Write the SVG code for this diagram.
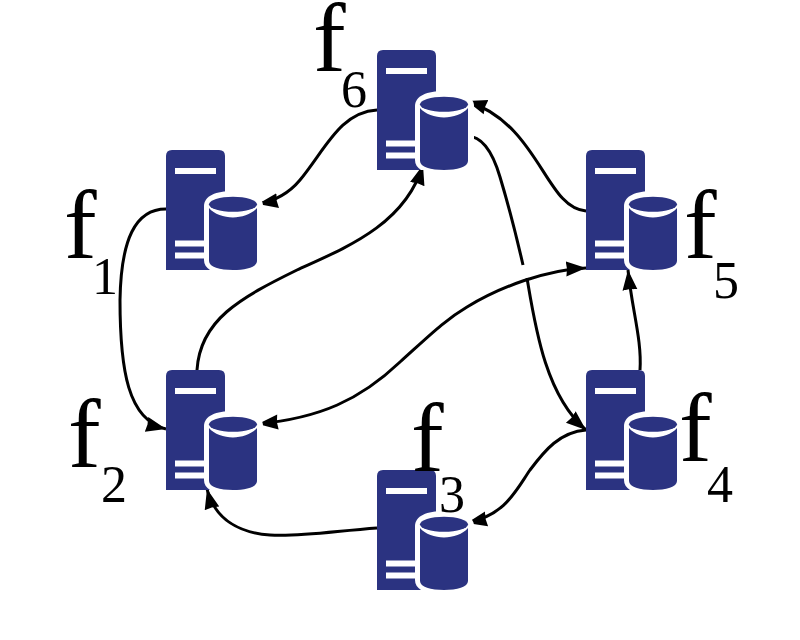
<svg xmlns="http://www.w3.org/2000/svg" width="800" height="640" viewBox="0 0 800 640">
<style>
.c{fill:none;stroke:#000;stroke-width:3}
.a{marker-end:url(#h)}
.b{marker-start:url(#s)}
.f{font-family:"Liberation Serif",serif;font-size:98px;fill:#000}
.n{font-size:52px;text-anchor:middle}
.t{fill:#2b3381}
.w{fill:#fff}
</style>
<defs>
<marker id="h" markerUnits="userSpaceOnUse" markerWidth="24" markerHeight="18" refX="20" refY="8" orient="auto"><path d="M0 0.500L20 8L0 15.500L1 8Z"/></marker>
<marker id="s" markerUnits="userSpaceOnUse" markerWidth="24" markerHeight="18" refX="0" refY="8" orient="auto"><path d="M20 0.500L0 8L20 15.500L19 8Z"/></marker>
<g id="srv">
<path class="t" d="M0 120V6Q0 0 6 0H53Q59 0 59 6V120Z"/>
<rect class="w" x="9" y="18" width="41" height="6"/>
<rect class="w" x="9" y="90.500" width="34" height="6"/>
<rect class="w" x="9" y="102.500" width="34" height="6"/>
<path class="w" d="M44 120Q38 116 38 110V56C38 46 50 41 67 41C84 41 97 46 97 56V120Z"/>
<path class="t" d="M43 58C48 64 58 67.500 67 67.500C76 67.500 86 64 91 58V111C91 117 80 120 67 120C54 120 43 117 43 111Z"/>
<ellipse class="t" cx="67" cy="54.300" rx="24" ry="7.500"/>
</g>
</defs>
<g id="connectors">
<path class="c a" d="M377 110C340 112 325 150 300 180C290 192 275 201 258 204"/>
<path class="c a" d="M166 209C135 209 121 240 120 300C120 370 128 420 166 429"/>
<path class="c a" d="M197 370C200 320 240 298 297 270C345 248 405 225 423 165"/>
<path class="c a b" d="M258 424C320 418 360 400 400 362C430 335 445 320 467 307C500 287 545 270 586 268"/>
<path class="c a" d="M586 211C545 208 540 125 467 101"/>
<path class="c" d="M467 136C485 136 495 160 500 177C510 210 515 230 523 265"/>
<path class="c a" d="M527 278C535 325 545 395 586 430"/>
<path class="c a" d="M640 370C642 340 632 310 628 270"/>
<path class="c a" d="M586 430C560 432 545 450 530 470C515 492 505 515 467 523"/>
<path class="c a" d="M377 528C335 531 300 537 270 535C240 533 215 520 207 489"/>
</g>
<g id="f1"><use href="#srv" x="166" y="150"/><text class="f" x="64" y="258">f<tspan class="n" x="105" y="294">1</tspan></text></g>
<g id="f2"><use href="#srv" x="166" y="370"/><text class="f" x="68" y="467">f<tspan class="n" x="114" y="502">2</tspan></text></g>
<g id="f3"><use href="#srv" x="377" y="470"/><text class="f" x="411" y="471">f<tspan class="n" x="452" y="512">3</tspan></text></g>
<g id="f4"><use href="#srv" x="586" y="370"/><text class="f" x="679" y="461">f<tspan class="n" x="720" y="502">4</tspan></text></g>
<g id="f5"><use href="#srv" x="586" y="150"/><text class="f" x="684" y="258">f<tspan class="n" x="726" y="298">5</tspan></text></g>
<g id="f6"><use href="#srv" x="377" y="50"/><text class="f" x="313" y="71">f<tspan class="n" x="354" y="107">6</tspan></text></g>
</svg>
